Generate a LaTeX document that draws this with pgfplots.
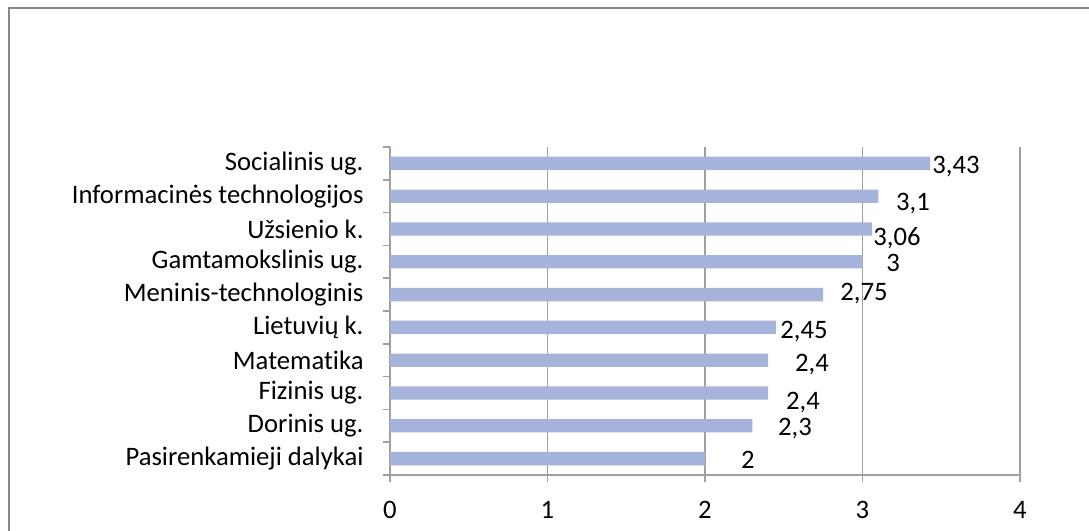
\documentclass[border=0pt]{standalone}
\usepackage{pgfplots}
\pgfplotsset{compat=1.18}
\usepackage{fontspec}
\setmainfont[Ligatures=NoCommon]{Carlito}

\definecolor{barcol}{RGB}{166,179,218}
\definecolor{gridcol}{RGB}{160,160,160}
\definecolor{framecol}{RGB}{136,136,136}

\pgfplotstableread{
y  v
0  2
1  2.3
2  2.4
3  2.4
4  2.45
5  2.75
6  3
7  3.06
8  3.1
9  3.43
}\rates

\begin{document}
\begin{tikzpicture}
\fontsize{20pt}{24pt}\selectfont
\useasboundingbox (0,0) rectangle (816.75pt,398.25pt);
% outer chart frame (only top and left edges visible)
\draw[framecol, line width=1.5pt] (7pt,-5pt) -- (7pt,392.25pt) -- (830pt,392.25pt);

\begin{axis}[%
at={(292.5pt,42pt)}, anchor=south west,
width=472.5pt, height=246pt,
scale only axis,
xbar, bar width=10pt,
xmin=0, xmax=4,
ymin=-0.5, ymax=9.5,
xtick={0,1,2,3,4},
ytick={-0.5,0.5,...,9.5},
yticklabels={},
extra y ticks={0,1,...,9},
extra y tick labels={Pasirenkamieji dalykai,Dorinis ug.,Fizinis ug.,Matematika,Lietuvių k.,Meninis-technologinis,Gamtamokslinis ug.,Užsienio k.,Informacinės technologijos,Socialinis ug.},
extra y tick style={major tick length=0pt, yticklabel style={xshift=-13pt}},
xmajorgrids,
grid style={gridcol, line width=1.2pt},
axis x line*=bottom,
axis y line*=left,
axis line style={gridcol, line width=1.2pt},
tick style={gridcol, line width=1.2pt},
tick align=outside,
major tick length=5pt,
xticklabel style={yshift=-8pt},
/pgf/number format/assume math mode=true,
ticklabel style={font=\fontsize{20pt}{24pt}\selectfont},
]
\addplot[draw=none, fill=barcol] table[x=v, y=y] {\rates};

\begin{scope}[every node/.style={anchor=center, inner sep=0pt, text height=0.63em, text depth=0pt}]
\node at (axis cs:3.594,8.95) {3,43};
\node at (axis cs:3.321,7.82) {3,1};
\node at (axis cs:3.219,6.76) {3,06};
\node at (axis cs:3.194,5.96) {3};
\node at (axis cs:3.010,5.08) {2,75};
\node at (axis cs:2.629,3.92) {2,45};
\node at (axis cs:2.679,2.91) {2,4};
\node at (axis cs:2.622,1.76) {2,4};
\node at (axis cs:2.571,0.96) {2,3};
\node at (axis cs:2.273,-0.04) {2};
\end{scope}
\end{axis}
\end{tikzpicture}
\end{document}
